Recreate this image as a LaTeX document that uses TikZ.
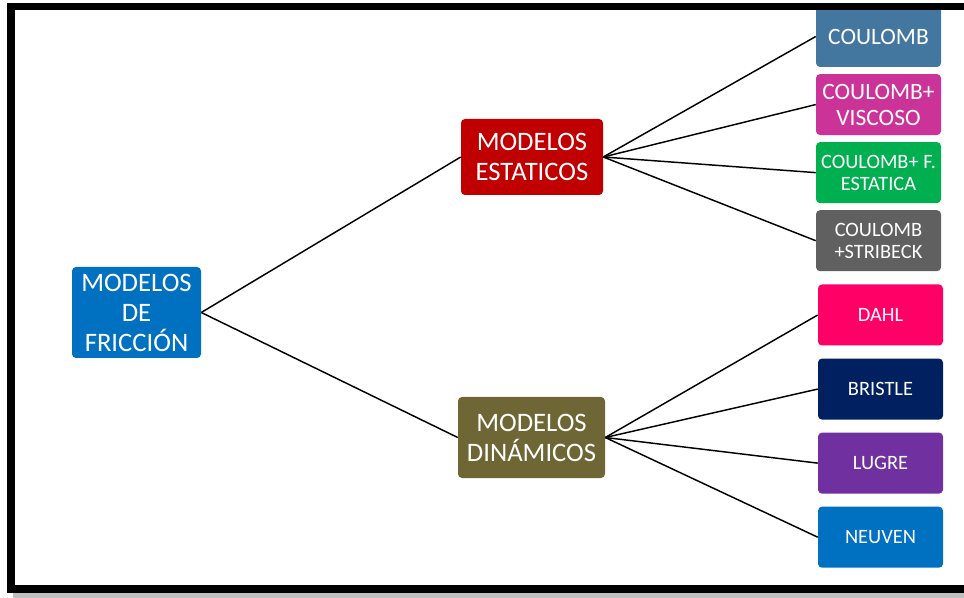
\documentclass[tikz,border=0pt]{standalone}
\usepackage{fontspec}
\setmainfont{Carlito}
\usetikzlibrary{positioning}
\definecolor{azul}{RGB}{0,112,192}
\definecolor{rojo}{RGB}{192,0,0}
\definecolor{oliva}{RGB}{110,102,52}
\definecolor{acero}{RGB}{68,119,160}
\definecolor{magenta}{RGB}{204,51,153}
\definecolor{verde}{RGB}{0,176,80}
\definecolor{gris}{RGB}{96,96,96}
\definecolor{rosa}{RGB}{255,0,102}
\definecolor{marino}{RGB}{0,32,96}
\definecolor{morado}{RGB}{112,48,160}
\newcommand{\grande}{\fontsize{20}{22.5}\selectfont}
\newcommand{\medio}{\fontsize{17.6}{19.5}\selectfont}
\newcommand{\chico}{\fontsize{15.3}{16.5}\selectfont}

\begin{document}
\begin{tikzpicture}[x=0.75pt,y=-0.75pt,
    caja/.style={rounded corners=3pt, text=white, align=center, inner sep=0pt},
    hoja/.style={caja, minimum width=93.75pt, minimum height=45.75pt, font=\chico},
    rama/.style={line width=1.1pt}]
    \useasboundingbox (0,0) rectangle (964,598);
    \clip (0,0) rectangle (964,598);
    %\fill[white] (0,0) rectangle (964,598);
    \node[caja, fill=azul, minimum width=96.75pt, minimum height=68.25pt, font=\grande] (friccion) at (136.5,312.5) {MODELOS\\DE\\FRICCIÓN};
    \node[caja, fill=rojo, minimum width=106.5pt, minimum height=57pt, font=\grande] (estaticos) at (532,157) {MODELOS\\ESTATICOS};
    \node[caja, fill=oliva, minimum width=110.25pt, minimum height=60.75pt, font=\grande] (dinamicos) at (531.5,437.5) {MODELOS\\DINÁMICOS};
    % modelos estaticos
    \node[hoja, fill=acero, font=\medio] (coulomb) at (878.5,36.5) {COULOMB};
    \node[hoja, fill=magenta, font=\medio, below=4.9pt of coulomb] (viscoso) {COULOMB+\\VISCOSO};
    \node[hoja, fill=verde, below=4.9pt of viscoso] (festatica) {COULOMB+ F.\\ESTATICA};
    \node[hoja, fill=gris, below=4.9pt of festatica] (stribeck) {COULOMB\\+STRIBECK};
    % modelos dinamicos
    \node[hoja, fill=rosa] (dahl) at (880.5,315) {DAHL};
    \node[hoja, fill=marino, below=9.4pt of dahl] (bristle) {BRISTLE};
    \node[hoja, fill=morado, below=9.4pt of bristle] (lugre) {LUGRE};
    \node[hoja, fill=azul, below=9.4pt of lugre] (neuven) {NEUVEN};
    \draw[rama] (friccion.east) -- (estaticos.west);
    \draw[rama] (friccion.east) -- (dinamicos.west);
    \foreach \h in {coulomb,viscoso,festatica,stribeck}
        \draw[rama] (estaticos.east) -- (\h.west);
    \foreach \h in {dahl,bristle,lugre,neuven}
        \draw[rama] (dinamicos.east) -- (\h.west);
    % marco
    \fill[black!25] (13,592) rectangle (990,598);
    \draw[line width=5.7pt] (11,6.5) rectangle (990,589);
\end{tikzpicture}
\end{document}
